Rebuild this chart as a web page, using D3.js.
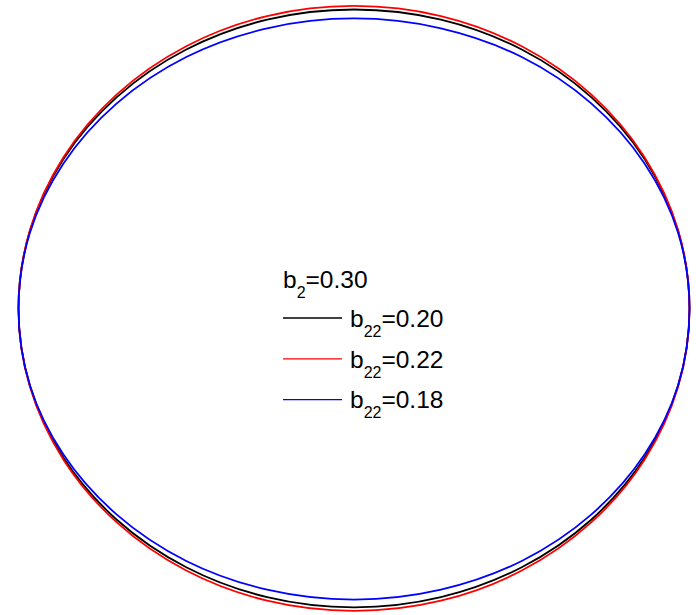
<!DOCTYPE html>
<html>
<head>
<meta charset="utf-8">
<script src="https://cdn.jsdelivr.net/npm/d3@7"></script>
<style>
  html, body { margin: 0; padding: 0; background: #fff; }
  svg { display: block; font-family: "Liberation Sans", Arial, sans-serif; }
</style>
</head>
<body>
<svg id="chart" width="696" height="615"></svg>
<script>
// Orbit samples (x, y) every 15 degrees around each closed trajectory
const orbitX = [1.000, 0.966, 0.866, 0.707, 0.500, 0.259, 0.000, -0.259, -0.500, -0.707, -0.866, -0.966,
                -1.000, -0.966, -0.866, -0.707, -0.500, -0.259, 0.000, 0.259, 0.500, 0.707, 0.866, 0.966];
const orbitYb020 = [0.000, 0.259, 0.500, 0.707, 0.866, 0.966, 1.000, 0.966, 0.866, 0.707, 0.500, 0.259,
                    0.000, -0.259, -0.500, -0.707, -0.866, -0.966, -1.000, -0.966, -0.866, -0.707, -0.500, -0.259];
const orbitYb022 = [0.000, 0.262, 0.506, 0.716, 0.877, 0.978, 1.012, 0.978, 0.877, 0.716, 0.506, 0.262,
                    0.000, -0.262, -0.506, -0.716, -0.877, -0.978, -1.012, -0.978, -0.877, -0.716, -0.506, -0.262];
const orbitYb018 = [-0.002, 0.253, 0.485, 0.686, 0.841, 0.937, 0.970, 0.937, 0.841, 0.686, 0.485, 0.253,
                    -0.002, -0.257, -0.489, -0.690, -0.845, -0.941, -0.974, -0.941, -0.845, -0.690, -0.489, -0.257];

const seriesValues = ["0.20", "0.22", "0.18"];
const seriesColors = ["#000000", "#ff0000", "#0000ff"];
const seriesY = [orbitYb020, orbitYb022, orbitYb018];
const fixedParam = "0.30";

const svg = d3.select("#chart");

const x = d3.scaleLinear().domain([-1, 1]).range([18.5, 689.5]);
const y = d3.scaleLinear().domain([-1, 1]).range([607.3, 9.5]);

const line = d3.line()
  .x(d => x(d[0]))
  .y(d => y(d[1]))
  .curve(d3.curveCatmullRomClosed.alpha(0.5));

const curves = svg.append("g").attr("class", "orbits");
seriesY.forEach((ys, i) => {
  const pts = orbitX.map((xv, k) => [xv, ys[k]]);
  curves.append("path")
    .attr("d", line(pts))
    .attr("fill", "none")
    .attr("stroke", seriesColors[i])
    .attr("stroke-width", 1.8);
});

// Legend
const mainSize = 24.5, subSize = 16, subShift = 10;
const legend = svg.append("g").attr("class", "legend");
const title = legend.append("text")
  .attr("x", 283).attr("y", 288)
  .attr("font-size", mainSize).attr("fill", "#000");
title.append("tspan").text("b");
title.append("tspan").attr("font-size", subSize).attr("dy", subShift).text("2");
title.append("tspan").attr("dy", -subShift).text("=" + fixedParam);

const rowY0 = 318, rowStep = 40.8;
seriesValues.forEach((v, i) => {
  const cy = rowY0 + i * rowStep;
  legend.append("line")
    .attr("x1", 283).attr("x2", 342)
    .attr("y1", cy).attr("y2", cy)
    .attr("stroke", seriesColors[i])
    .attr("stroke-width", i === 0 ? 1.6 : 1.2);
  const t = legend.append("text")
    .attr("x", 350).attr("y", cy + 8.7)
    .attr("font-size", mainSize).attr("fill", "#000");
  t.append("tspan").text("b");
  t.append("tspan").attr("font-size", subSize).attr("dy", subShift).text("22");
  t.append("tspan").attr("dy", -subShift).text("=" + v);
});
</script>
</body>
</html>
